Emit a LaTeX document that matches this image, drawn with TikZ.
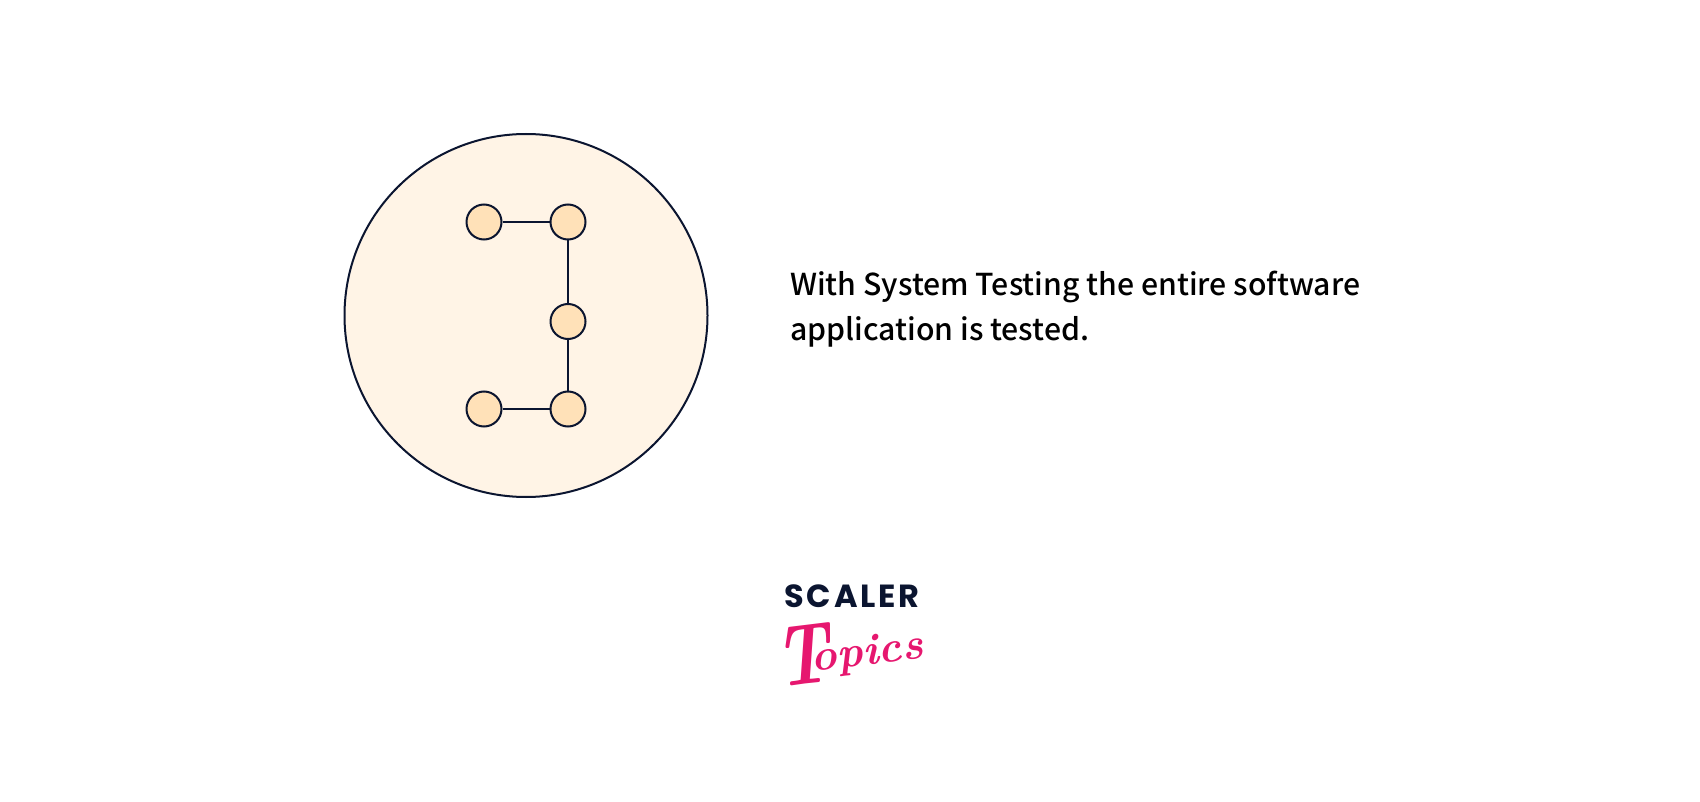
\documentclass[tikz,border=0pt]{standalone}
\usepackage{fontspec}
\newfontfamily\bodyfont{Noto Sans CJK SC Medium}
\newfontfamily\logofont{Poppins}[LetterSpace=9]
\definecolor{ink}{HTML}{0B1530}
\definecolor{peach}{HTML}{FFF4E6}
\definecolor{peachdark}{HTML}{FFE1B8}
\definecolor{pink}{HTML}{E6176F}
\tikzset{
  unitnode/.style={circle,draw=ink,fill=peachdark,line width=2pt,minimum size=35pt,inner sep=0pt},
  linkline/.style={draw=ink,line width=2pt},
  bodytext/.style={anchor=base west,inner sep=0pt,text=black,font=\bodyfont\fontsize{30.2}{31}\selectfont},
}
\begin{document}
\begin{tikzpicture}[x=1pt,y=-1pt]
\useasboundingbox (0,0) rectangle (1700,802);
\node[circle,draw=ink,fill=peach,line width=2pt,minimum size=363pt,inner sep=0pt] (outer) at (526,315.5) {};
\node[unitnode] (tl) at (484,222) {};
\node[unitnode] (tr) at (568,222) {};
\node[unitnode] (mid) at (568,321.5) {};
\node[unitnode] (bl) at (484,409) {};
\node[unitnode] (br) at (568,409) {};
\draw[linkline] (tl) -- (tr);
\draw[linkline] (tr) -- (mid);
\draw[linkline] (mid) -- (br);
\draw[linkline] (bl) -- (br);
\node[bodytext] (line1) at (790,295.5) {With System Testing the entire software};
\node[bodytext] (line2) at (790,340) {application is tested.};
\node[anchor=base west,inner sep=0pt,text=ink,font=\logofont\bfseries\fontsize{32}{32}\selectfont] (scaler) at (784,607) {SCALER};
\node[anchor=base west,inner sep=0pt,text=pink,rotate=7,font=\bfseries\itshape] (topics) at (778,688) {\scalebox{0.85}[1.08]{\fontsize{80}{80}\selectfont T}\kern-18pt\raisebox{12pt}{\fontsize{44}{44}\selectfont opics}};
\end{tikzpicture}
\end{document}
